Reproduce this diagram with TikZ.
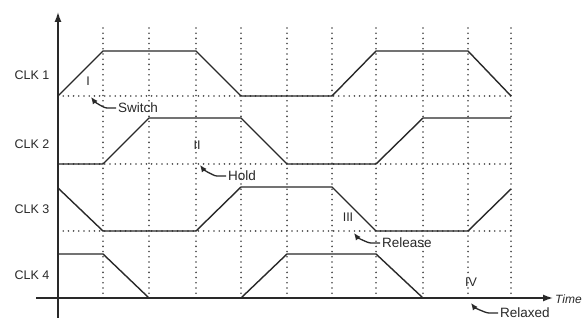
\documentclass[tikz,border=0pt]{standalone}
\usepackage{fontspec}
\setmainfont{Liberation Sans}
\usetikzlibrary{arrows.meta}
\definecolor{ink}{gray}{0.16}
\definecolor{dotgray}{gray}{0.28}
\tikzset{
  wave/.style={line width=1.4pt, draw=ink, line join=round},
  gridline/.style={line width=1.8pt, draw=dotgray, line cap=round, dash pattern=on 0pt off 5.2pt},
  axis/.style={line width=1.4pt, draw=ink, -{Latex[length=10pt,width=7pt]}},
  pointer/.style={line width=1.3pt, draw=ink, -{Latex[length=7pt,width=6pt]}},
  clklabel/.style={font=\fontsize{12.5}{14}\selectfont, text=ink, inner sep=0pt},
  notelabel/.style={font=\fontsize{13.5}{15}\selectfont, text=ink, inner sep=0pt, anchor=west},
  phaselabel/.style={font=\fontsize{12.5}{13}\selectfont, text=ink, inner sep=0pt}
}
\begin{document}
\begin{tikzpicture}[x=1pt, y=-1pt]
	\clip (0,0) rectangle (584,320);
	\fill[white] (0,0) rectangle (584,320);
	% dotted grid
	\foreach \x in {103,149,196,241,287,332,376,423,468,511}
		\draw[gridline] (\x,28) -- (\x,298);
	\draw[gridline] (58,96) -- (511,96); %CLK 1 low
	\draw[gridline] (58,164) -- (511,164); %CLK 2 low
	\draw[gridline] (58,231) -- (511,231); %CLK 3 low
	% axes
	\draw[axis] (58,318) -- (58,12);
	\draw[axis] (36,298) -- (553,298);
	\node[font=\fontsize{12}{13}\selectfont\itshape, text=ink, anchor=west, inner sep=0pt] (time) at (555,299) {Time};
	% clocks
	\draw[wave] (58,96) -- (103,51) -- (196,51) -- (241,96) -- (332,96) -- (376,51) -- (468,51) -- (511,96); %CLK 1
	\draw[wave] (58,164) -- (103,164) -- (149,118) -- (241,118) -- (287,164) -- (376,164) -- (423,118) -- (511,118); %CLK 2
	\draw[wave] (58,188) -- (103,231) -- (196,231) -- (241,187) -- (332,187) -- (376,231) -- (468,231) -- (511,189); %CLK 3
	\draw[wave] (58,254) -- (103,254) -- (149,298) -- (241,298) -- (287,254) -- (376,254) -- (423,298); %CLK 4
	\node[clklabel] (clk1) at (32,75) {CLK 1};
	\node[clklabel] (clk2) at (32,144) {CLK 2};
	\node[clklabel] (clk3) at (32,209) {CLK 3};
	\node[clklabel] (clk4) at (32,275) {CLK 4};
	% phases
	\node[phaselabel] (ph1) at (88,81) {I};
	\node[phaselabel] (ph2) at (197,145) {II};
	\node[phaselabel] (ph3) at (348,217) {III};
	\node[phaselabel] (ph4) at (471,282) {IV};
	% notes
	\coordinate (tipI) at (91,97);
	\coordinate (tipII) at (200,165);
	\coordinate (tipIII) at (354,233);
	\coordinate (tipIV) at (471,303);
	\node[notelabel] (switch) at (118,108) {Switch};
	\node[notelabel] (hold) at (228,176) {Hold};
	\node[notelabel] (release) at (382,243) {Release};
	\node[notelabel] (relaxed) at (500,313) {Relaxed};
	\draw[pointer] (switch.west) ++(-2,0) -- ++(-9,0) .. controls +(-4,0) and +(3,4) .. (tipI);
	\draw[pointer] (hold.west) ++(-2,0) -- ++(-9,0) .. controls +(-4,0) and +(3,4) .. (tipII);
	\draw[pointer] (release.west) ++(-2,0) -- ++(-9,0) .. controls +(-4,0) and +(3,4) .. (tipIII);
	\draw[pointer] (relaxed.west) ++(-2,0) -- ++(-9,0) .. controls +(-4,0) and +(3,4) .. (tipIV);
\end{tikzpicture}
\end{document}
